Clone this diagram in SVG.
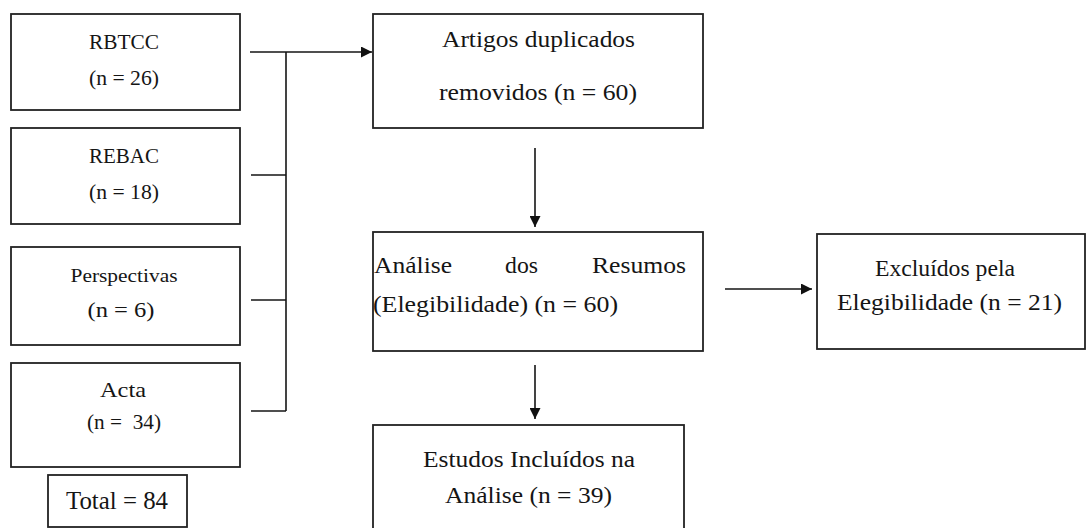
<svg xmlns="http://www.w3.org/2000/svg" width="1086" height="528" viewBox="0 0 1086 528">
<defs>
<marker id="ah" viewBox="0 0 10 10" refX="10" refY="5" markerWidth="11" markerHeight="11" markerUnits="userSpaceOnUse" orient="auto">
<path d="M0,0 L10,5 L0,10 Z" fill="#111"/>
</marker>
</defs>
<style>
.box{fill:#fff;stroke:#222;stroke-width:1.8}
.t{font-family:"Liberation Serif","Times New Roman",serif;fill:#151515;font-size:24px}
.s{font-size:21px}
.c{text-anchor:middle}
.ln{fill:none;stroke:#151515;stroke-width:1.6}
</style>
<rect width="1086" height="528" fill="#fff"/>
<g id="rbtcc">
<rect class="box" x="11" y="14" width="229" height="96"/>
<text class="t s c" x="124" y="49" textLength="70" lengthAdjust="spacingAndGlyphs">RBTCC</text>
<text class="t s c" x="124" y="85" textLength="70" lengthAdjust="spacingAndGlyphs">(n = 26)</text>
</g>
<g id="rebac">
<rect class="box" x="11" y="128" width="229" height="96"/>
<text class="t s c" x="124" y="163" textLength="70" lengthAdjust="spacingAndGlyphs">REBAC</text>
<text class="t s c" x="124" y="199" textLength="70" lengthAdjust="spacingAndGlyphs">(n = 18)</text>
</g>
<g id="perspectivas">
<rect class="box" x="11" y="247" width="229" height="98"/>
<text class="t c" style="font-size:19px" x="124" y="282" textLength="107" lengthAdjust="spacingAndGlyphs">Perspectivas</text>
<text class="t s c" x="121" y="317" textLength="67" lengthAdjust="spacingAndGlyphs">(n = 6)</text>
</g>
<g id="acta">
<rect class="box" x="11" y="363" width="229" height="104"/>
<text class="t s c" x="123" y="397" textLength="46" lengthAdjust="spacingAndGlyphs">Acta</text>
<text class="t s c" x="124" y="429" textLength="74" lengthAdjust="spacingAndGlyphs" xml:space="preserve">(n =  34)</text>
</g>
<g id="total">
<rect class="box" x="48" y="475" width="139" height="52"/>
<text class="t c" style="font-size:25px" x="117" y="509" textLength="102" lengthAdjust="spacingAndGlyphs">Total = 84</text>
</g>
<g id="artigos">
<rect class="box" x="373" y="14" width="330" height="114"/>
<text class="t c" x="538.5" y="47" textLength="193" lengthAdjust="spacingAndGlyphs">Artigos duplicados</text>
<text class="t c" x="538" y="100" textLength="198" lengthAdjust="spacingAndGlyphs">removidos (n = 60)</text>
</g>
<g id="analise">
<rect class="box" x="373" y="232" width="330" height="119"/>
<text class="t" x="374" y="273" textLength="78" lengthAdjust="spacingAndGlyphs">Análise</text>
<text class="t" x="505" y="273" textLength="33" lengthAdjust="spacingAndGlyphs">dos</text>
<text class="t" x="592" y="273" textLength="94" lengthAdjust="spacingAndGlyphs">Resumos</text>
<text class="t" x="373" y="312" textLength="245" lengthAdjust="spacingAndGlyphs">(Elegibilidade) (n = 60)</text>
</g>
<g id="excluidos">
<rect class="box" x="817" y="234" width="268" height="115"/>
<text class="t c" x="945" y="276" textLength="140" lengthAdjust="spacingAndGlyphs">Excluídos pela</text>
<text class="t c" x="949.5" y="310" textLength="225" lengthAdjust="spacingAndGlyphs">Elegibilidade (n = 21)</text>
</g>
<g id="estudos">
<rect class="box" x="373" y="425" width="311" height="110"/>
<text class="t c" x="529" y="467" textLength="212" lengthAdjust="spacingAndGlyphs">Estudos Incluídos na</text>
<text class="t c" x="528.5" y="503" textLength="167" lengthAdjust="spacingAndGlyphs">Análise (n = 39)</text>
</g>
<g id="connectors">
<line class="ln" x1="250" y1="52" x2="372" y2="52" marker-end="url(#ah)"/>
<line class="ln" x1="286" y1="52" x2="286" y2="411"/>
<line class="ln" x1="251" y1="175" x2="286" y2="175"/>
<line class="ln" x1="251" y1="300" x2="286" y2="300"/>
<line class="ln" x1="251" y1="411" x2="286" y2="411"/>
<line class="ln" x1="535" y1="148" x2="535" y2="227" marker-end="url(#ah)"/>
<line class="ln" x1="535" y1="365" x2="535" y2="419" marker-end="url(#ah)"/>
<line class="ln" x1="725" y1="289" x2="812" y2="289" marker-end="url(#ah)"/>
</g>
</svg>
